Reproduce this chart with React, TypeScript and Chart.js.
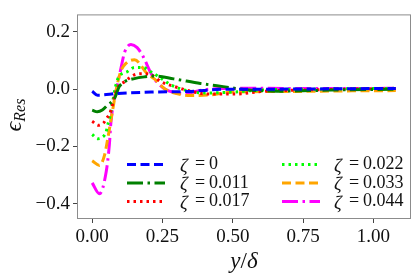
import React, { useEffect, useRef } from "react";
import { Chart, registerables } from "chart.js";

Chart.register(...registerables);

const xTicks = [0, 0.25, 0.5, 0.75, 1.0];
const yTicks = [-0.4, -0.2, 0.0, 0.2];

const labels = ["0", "0.011", "0.017", "0.022", "0.033", "0.044"];
const colors = ["#0000ff", "#008000", "#ff0000", "#00ff00", "#ffa500", "#ff00ff"];
const dashes = [[9, 4.5], [16, 4.5, 2.5, 4.5], [2.5, 4], [2.5, 4], [9, 4.5], [16, 4.5, 2.5, 4.5]];

const x0 = [0, 0.019, 0.09, 0.21, 0.34, 0.48, 0.6, 0.8, 1.0, 1.08];
const y0 = [-0.007, -0.021, -0.015, -0.01, -0.008, 0.0, 0.0, 0.001, 0.002, 0.002];

const x011 = [0, 0.018, 0.036, 0.054, 0.079, 0.097, 0.115, 0.15, 0.186, 0.22, 0.29, 0.385, 0.466, 0.55, 0.66, 0.85, 1.08];
const y011 = [-0.073, -0.079, -0.073, -0.056, -0.033, 0.01, 0.026, 0.037, 0.043, 0.046, 0.036, 0.02, 0.009, -0.002, -0.007, -0.003, 0.0];

const x017 = [0, 0.022, 0.04, 0.053, 0.061, 0.09, 0.115, 0.15, 0.178, 0.21, 0.243, 0.29, 0.35, 0.41, 0.48, 0.53, 0.6, 0.75, 0.9, 1.08];
const y017 = [-0.112, -0.126, -0.118, -0.099, -0.09, 0.004, 0.026, 0.05, 0.054, 0.05, 0.027, 0.01, -0.007, -0.017, -0.017, -0.016, -0.008, -0.003, 0.0, 0.002];

const x022 = [0, 0.02, 0.036, 0.05, 0.054, 0.061, 0.09, 0.126, 0.15, 0.18, 0.21, 0.248, 0.28, 0.35, 0.41, 0.5, 0.6, 0.8, 1.08];
const y022 = [-0.158, -0.173, -0.168, -0.148, -0.129, -0.105, 0.033, 0.062, 0.076, 0.076, 0.06, 0.036, 0.015, -0.008, -0.013, -0.01, -0.003, 0.0, 0.003];

const x033 = [0, 0.026, 0.044, 0.054, 0.067, 0.09, 0.103, 0.12, 0.15, 0.196, 0.22, 0.26, 0.3, 0.35, 0.42, 0.5, 0.7, 0.9, 1.08];
const y033 = [-0.25, -0.266, -0.23, -0.18, -0.106, 0.02, 0.066, 0.09, 0.103, 0.054, 0.037, 0.0, -0.015, -0.022, -0.02, -0.01, -0.008, -0.006, -0.005];

const x044 = [0, 0.026, 0.05, 0.061, 0.067, 0.09, 0.103, 0.115, 0.138, 0.16, 0.179, 0.21, 0.23, 0.26, 0.3, 0.33, 0.38, 0.45, 0.6, 0.8, 1.08];
const y044 = [-0.327, -0.365, -0.287, -0.195, -0.112, 0.016, 0.076, 0.128, 0.156, 0.145, 0.118, 0.054, 0.025, 0.0, -0.013, -0.015, -0.005, 0.002, 0.003, 0.002, 0.003];

const seriesX = [x0, x011, x017, x022, x033, x044];
const seriesY = [y0, y011, y017, y022, y033, y044];

const FONT = "'Liberation Serif', 'DejaVu Serif', serif";

const overlay = {
  id: "overlay",
  afterDraw(chart: any) {
    const ctx = chart.ctx;
    const a = chart.chartArea;
    ctx.save();
    // frame
    ctx.strokeStyle = "#8c8c8c";
    ctx.lineWidth = 1;
    ctx.setLineDash([]);
    ctx.strokeRect(a.left + 0.5, a.top + 0.5, a.right - a.left - 1, a.bottom - a.top - 1);

    // legend
    const rows = [164.5, 183, 201.5];
    const cols = [
      { lx: 127, tx: 180 },
      { lx: 282, tx: 334 },
    ];
    for (let i = 0; i < labels.length; i++) {
      const c = cols[Math.floor(i / 3)];
      const y = rows[i % 3];
      ctx.strokeStyle = colors[i];
      ctx.lineWidth = 3;
      ctx.setLineDash(dashes[i]);
      ctx.lineCap = "butt";
      ctx.beginPath();
      ctx.moveTo(c.lx, y);
      ctx.lineTo(c.lx + 38, y);
      ctx.stroke();
      ctx.setLineDash([]);
      ctx.fillStyle = "#111";
      ctx.textBaseline = "middle";
      ctx.textAlign = "left";
      ctx.font = `italic 19px ${FONT}`;
      ctx.fillText("ζ", c.tx, y + 2);
      ctx.font = `18px ${FONT}`;
      ctx.fillText("=", c.tx + 15, y);
      ctx.fillText(labels[i], c.tx + 29, y);
    }

    // x title
    ctx.fillStyle = "#111";
    ctx.textBaseline = "alphabetic";
    const cx = (a.left + a.right) / 2;
    const fs = 23;
    ctx.font = `italic ${fs}px ${FONT}`;
    const wy = ctx.measureText("y").width;
    ctx.font = `${fs}px ${FONT}`;
    const ws = ctx.measureText("/").width;
    ctx.font = `italic ${fs}px ${FONT}`;
    const wd = ctx.measureText("δ").width;
    const sx = cx - (wy + ws + wd) / 2;
    ctx.textAlign = "left";
    ctx.fillText("y", sx, 268);
    ctx.font = `${fs}px ${FONT}`;
    ctx.fillText("/", sx + wy, 268);
    ctx.font = `italic ${fs}px ${FONT}`;
    ctx.fillText("δ", sx + wy + ws, 268);

    // y title
    ctx.translate(21, 115);
    ctx.rotate(-Math.PI / 2);
    ctx.font = `italic 24px ${FONT}`;
    const we = ctx.measureText("ϵ").width;
    ctx.font = `italic 16px ${FONT}`;
    const wr = ctx.measureText("Res").width;
    const ox = -(we + wr) / 2;
    ctx.font = `italic 24px ${FONT}`;
    ctx.fillText("ϵ", ox, 0);
    ctx.font = `italic 16px ${FONT}`;
    ctx.fillText("Res", ox + we, 4);
    ctx.restore();
  },
};

export default function App() {
  const ref = useRef<HTMLCanvasElement | null>(null);
  useEffect(() => {
    if (!ref.current) return;
    const datasets = labels.map((l, i) => ({
      label: "ζ = " + l,
      data: seriesX[i].map((x, j) => ({ x, y: seriesY[i][j] })),
      borderColor: colors[i],
      backgroundColor: colors[i],
      borderWidth: 3,
      borderDash: dashes[i],
      pointRadius: 0,
      showLine: true,
      fill: false,
      cubicInterpolationMode: "monotone" as const,
    }));
    const chart = new Chart(ref.current, {
      type: "scatter",
      data: { datasets },
      options: {
        animation: false,
        responsive: false,
        devicePixelRatio: 1,
        layout: { padding: { top: 3, right: 4, left: 0, bottom: 0 } },
        plugins: { legend: { display: false }, tooltip: { enabled: false } },
        scales: {
          x: {
            type: "linear",
            min: -0.054,
            max: 1.134,
            border: { display: false },
            grid: { drawOnChartArea: false, drawTicks: true, tickLength: 4, color: "#444" },
            afterBuildTicks: (s: any) => {
              s.ticks = xTicks.map((v) => ({ value: v }));
            },
            afterFit: (s: any) => {
              s.height = 57;
            },
            ticks: {
              padding: 3,
              color: "#111",
              font: { family: FONT, size: 19 },
              maxRotation: 0,
              autoSkip: false,
              callback: (v: any) => Number(v).toFixed(2),
            },
          },
          y: {
            type: "linear",
            min: -0.453,
            max: 0.261,
            border: { display: false },
            grid: { drawOnChartArea: false, drawTicks: true, tickLength: 4, color: "#444" },
            afterBuildTicks: (s: any) => {
              s.ticks = yTicks.map((v) => ({ value: v }));
            },
            afterFit: (s: any) => {
              s.width = 77;
            },
            ticks: {
              padding: 3,
              color: "#111",
              font: { family: FONT, size: 19 },
              autoSkip: false,
              callback: (v: any) => {
                const n = Number(v);
                return (n < -1e-9 ? "−" : "") + Math.abs(n).toFixed(1);
              },
            },
          },
        },
      },
      plugins: [overlay],
    });
    return () => chart.destroy();
  }, []);
  return (
    <div style={{ position: "absolute", left: 0, top: 0, width: 415, height: 276, background: "#fff" }}>
      <canvas ref={ref} width={415} height={276} style={{ width: 415, height: 276, display: "block" }} />
    </div>
  );
}
